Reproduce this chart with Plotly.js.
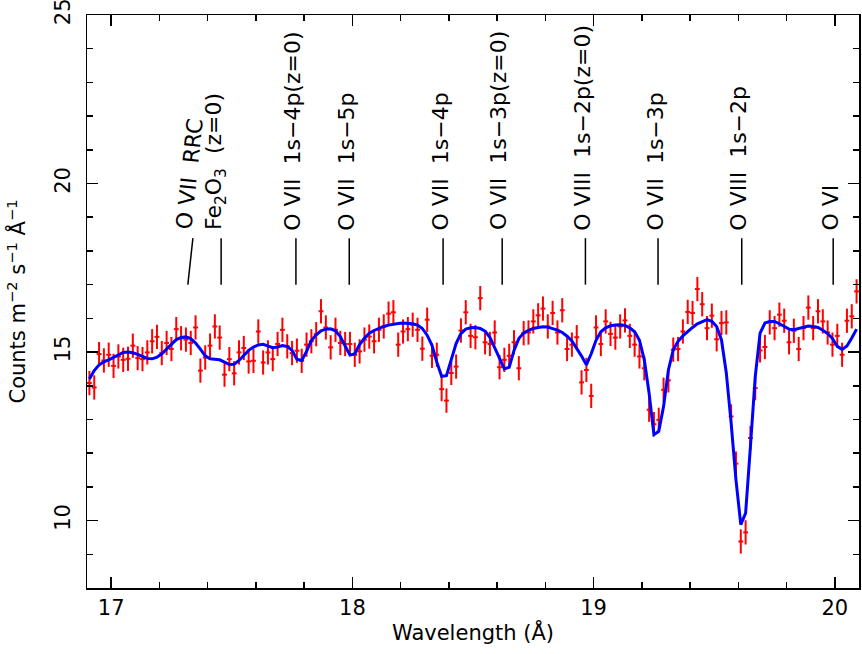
<!DOCTYPE html>
<html>
<head>
<meta charset="utf-8">
<script src="https://cdn.plot.ly/plotly-3.0.1.min.js"></script>
<style>
  html, body { margin: 0; padding: 0; background: #fff; }
  #plot { width: 862px; height: 654px; }
</style>
</head>
<body>
<div id="plot"></div>
<script>
// spectrum bins (Angstrom)
var wave = [
  16.91, 16.93, 16.95, 16.97, 16.99, 17.01, 17.03, 17.05, 17.07, 17.09,
  17.11, 17.13, 17.15, 17.17, 17.19, 17.21, 17.23, 17.25, 17.27, 17.29,
  17.31, 17.33, 17.35, 17.37, 17.39, 17.41, 17.43, 17.45, 17.47, 17.49,
  17.51, 17.53, 17.55, 17.57, 17.59, 17.61, 17.63, 17.65, 17.67, 17.69,
  17.71, 17.73, 17.75, 17.77, 17.79, 17.81, 17.83, 17.85, 17.87, 17.89,
  17.91, 17.93, 17.95, 17.97, 17.99, 18.01, 18.03, 18.05, 18.07, 18.09,
  18.11, 18.13, 18.15, 18.17, 18.19, 18.21, 18.23, 18.25, 18.27, 18.29,
  18.31, 18.33, 18.35, 18.37, 18.39, 18.41, 18.43, 18.45, 18.47, 18.49,
  18.51, 18.53, 18.55, 18.57, 18.59, 18.61, 18.63, 18.65, 18.67, 18.69,
  18.71, 18.73, 18.75, 18.77, 18.79, 18.81, 18.83, 18.85, 18.87, 18.89,
  18.91, 18.93, 18.95, 18.97, 18.99, 19.01, 19.03, 19.05, 19.07, 19.09,
  19.11, 19.13, 19.15, 19.17, 19.19, 19.21, 19.23, 19.25, 19.27, 19.29,
  19.31, 19.33, 19.35, 19.37, 19.39, 19.41, 19.43, 19.45, 19.47, 19.49,
  19.51, 19.53, 19.55, 19.57, 19.59, 19.61, 19.63, 19.65, 19.67, 19.69,
  19.71, 19.73, 19.75, 19.77, 19.79, 19.81, 19.83, 19.85, 19.87, 19.89,
  19.91, 19.93, 19.95, 19.97, 19.99, 20.01, 20.03, 20.05, 20.07, 20.09
];

// measured counts
var flux = [
  14.08, 13.95, 14.94, 14.75, 14.92, 14.59, 14.87, 14.77, 14.80, 15.19,
  14.82, 14.79, 14.99, 15.32, 15.45, 14.97, 15.27, 15.09, 15.68, 15.41,
  15.37, 15.27, 15.73, 14.45, 14.84, 15.19, 15.76, 15.43, 14.33, 14.79,
  14.37, 14.99, 15.12, 14.72, 14.74, 15.61, 14.69, 14.99, 14.79, 15.24,
  15.66, 15.17, 14.97, 15.04, 14.74, 15.22, 15.32, 15.53, 16.21, 15.73,
  15.14, 15.66, 15.27, 15.24, 15.24, 14.92, 15.02, 15.37, 15.46, 15.32,
  15.66, 15.76, 16.14, 16.18, 15.22, 15.61, 15.68, 15.81, 15.66, 15.10,
  15.96, 14.89, 14.92, 13.90, 13.56, 14.38, 14.57, 15.64, 16.18, 15.48,
  15.44, 16.60, 15.29, 15.24, 15.58, 14.55, 14.77, 14.89, 15.29, 14.52,
  15.56, 15.58, 15.91, 16.09, 16.29, 15.76, 16.16, 15.58, 16.24, 15.09,
  15.22, 15.44, 14.10, 14.47, 13.70, 15.73, 15.24, 15.91, 15.54, 15.43,
  15.76, 15.94, 15.48, 15.22, 14.87, 14.52, 13.29, 12.86, 12.99, 13.88,
  14.16, 15.07, 15.09, 15.61, 16.19, 16.16, 16.87, 16.42, 15.71, 16.08,
  15.38, 15.86, 15.88, 13.09, 11.69, 9.38, 9.65, 12.45, 13.93, 15.05,
  15.15, 15.88, 15.71, 16.11, 15.93, 15.29, 15.63, 15.09, 15.71, 16.32,
  15.71, 16.21, 15.91, 15.58, 15.22, 15.48, 14.92, 15.93, 16.06, 16.80
];
var fluxErr = 0.36;
var binHalf = 0.01;

// fitted model
var model = [
  14.20, 14.45, 14.62, 14.71, 14.77, 14.85, 14.93, 14.99, 15.00, 14.98,
  14.93, 14.87, 14.81, 14.80, 14.85, 14.95, 15.09, 15.25, 15.37, 15.43,
  15.45, 15.40, 15.27, 15.09, 14.89, 14.80, 14.79, 14.77, 14.70, 14.63,
  14.64, 14.75, 14.90, 15.05, 15.15, 15.21, 15.23, 15.19, 15.13, 15.15,
  15.19, 15.17, 15.05, 14.79, 14.75, 15.02, 15.34, 15.51, 15.63, 15.68,
  15.69, 15.63, 15.46, 15.18, 14.91, 14.95, 15.22, 15.41, 15.56, 15.64,
  15.71, 15.76, 15.80, 15.83, 15.85, 15.86, 15.86, 15.84, 15.80, 15.70,
  15.50, 15.20, 14.70, 14.28, 14.30, 14.78, 15.25, 15.55, 15.68, 15.72,
  15.73, 15.70, 15.62, 15.44, 15.12, 14.80, 14.50, 14.55, 15.05, 15.40,
  15.57, 15.64, 15.70, 15.73, 15.75, 15.74, 15.70, 15.65, 15.58, 15.47,
  15.33, 15.12, 14.88, 14.62, 14.95, 15.35, 15.60, 15.72, 15.78, 15.80,
  15.81, 15.79, 15.72, 15.60, 15.35, 14.77, 13.78, 12.55, 12.65, 13.39,
  14.47, 15.07, 15.32, 15.48, 15.61, 15.73, 15.84, 15.91, 15.96, 15.91,
  15.76, 15.36, 14.38, 12.89, 11.21, 9.88, 10.22, 12.20, 14.28, 15.56,
  15.86, 15.91, 15.91, 15.84, 15.76, 15.68, 15.66, 15.70, 15.74, 15.77,
  15.76, 15.73, 15.65, 15.55, 15.40, 15.17, 15.08, 15.18, 15.42, 15.68
];

// axis ticks
var yTickVals = [10, 15, 20, 25];
var yTickText = ['10', '15', '20', '25'];

// line identifications
var lineWave    = [17.318, 17.456, 17.766, 17.987, 18.376, 18.621, 18.966, 19.267, 19.614, 19.993];
var lineTopWave = [17.339, 17.456, 17.766, 17.987, 18.376, 18.621, 18.966, 19.267, 19.614, 19.993];
var lineLabel = [
  'O VII\u00a0\u00a0RRC',
  'Fe<sub>2</sub>O<sub>3</sub>\u00a0\u00a0(z=0)',
  'O VII\u00a0\u00a01s\u22124p(z=0)',
  'O VII\u00a0\u00a01s\u22125p',
  'O VII\u00a0\u00a01s\u22124p',
  'O VII\u00a0\u00a01s\u22123p(z=0)',
  'O VIII\u00a0\u00a01s\u22122p(z=0)',
  'O VII\u00a0\u00a01s\u22123p',
  'O VIII\u00a0\u00a01s\u22122p',
  'O VI'
];

var FONT = 'DejaVu Sans, Arial, sans-serif';

var shapes = [];
var annotations = [];
for (var i = 0; i < lineWave.length; i++) {
  shapes.push({
    type: 'line', xref: 'x', yref: 'y',
    x0: lineWave[i], x1: lineTopWave[i], y0: 17.0, y1: 18.38,
    line: { color: 'black', width: 1.5 }
  });
  annotations.push({
    xref: 'x', yref: 'y', x: lineTopWave[i], y: 18.55,
    text: lineLabel[i], showarrow: false,
    textangle: i === 0 ? -84 : -90,
    xanchor: 'center', yanchor: 'bottom', xshift: i === 1 ? -5 : -3,
    font: { family: FONT, size: 22, color: 'black' }
  });
}

var data = [
  {
    x: wave, y: flux, type: 'scatter', mode: 'markers',
    marker: { size: 1, color: 'red' },
    error_y: { type: 'constant', value: fluxErr, color: 'rgb(255,0,0)', thickness: 2, width: 0 },
    error_x: { type: 'constant', value: binHalf, color: 'rgb(255,0,0)', thickness: 2, width: 0 },
    hoverinfo: 'skip'
  },
  {
    x: wave, y: model, type: 'scatter', mode: 'lines',
    line: { color: 'rgb(0,0,255)', width: 3 },
    hoverinfo: 'skip'
  }
];

var layout = {
  width: 862, height: 654,
  margin: { l: 87, r: 3, t: 15, b: 66 },
  paper_bgcolor: 'white', plot_bgcolor: 'white',
  showlegend: false,
  font: { family: FONT, size: 21, color: 'black' },
  xaxis: {
    range: [16.9, 20.1], tick0: 17, dtick: 1,
    showgrid: false, zeroline: false,
    showline: true, linecolor: 'black', linewidth: 1.5, mirror: 'ticks',
    ticks: 'inside', ticklen: 11, tickwidth: 1.5, tickcolor: 'black',
    minor: { dtick: 0.2, ticks: 'inside', ticklen: 6, tickwidth: 1.5, tickcolor: 'black', showgrid: false },
    tickfont: { family: FONT, size: 21 },
    title: { text: 'Wavelength (Å)', font: { family: FONT, size: 21 }, standoff: 6 }
  },
  yaxis: {
    range: [8, 25], tickmode: 'array', tickvals: yTickVals, ticktext: yTickText,
    showgrid: false, zeroline: false,
    showline: true, linecolor: 'black', linewidth: 1.5, mirror: 'ticks',
    ticks: 'inside', ticklen: 11, tickwidth: 1.5, tickcolor: 'black',
    minor: { dtick: 1, tick0: 0, ticks: 'inside', ticklen: 6, tickwidth: 1.5, tickcolor: 'black', showgrid: false },
    tickangle: -90, ticklabelstandoff: 7, ticklabeloverflow: 'allow',
    tickfont: { family: FONT, size: 21 },
    title: { text: 'Counts m<sup>\u22122</sup> s<sup>\u22121</sup> Å<sup>\u22121</sup>', font: { family: FONT, size: 21 }, standoff: 19 }
  },
  shapes: shapes,
  annotations: annotations
};

Plotly.newPlot('plot', data, layout, { displayModeBar: false, staticPlot: true });
</script>
</body>
</html>
